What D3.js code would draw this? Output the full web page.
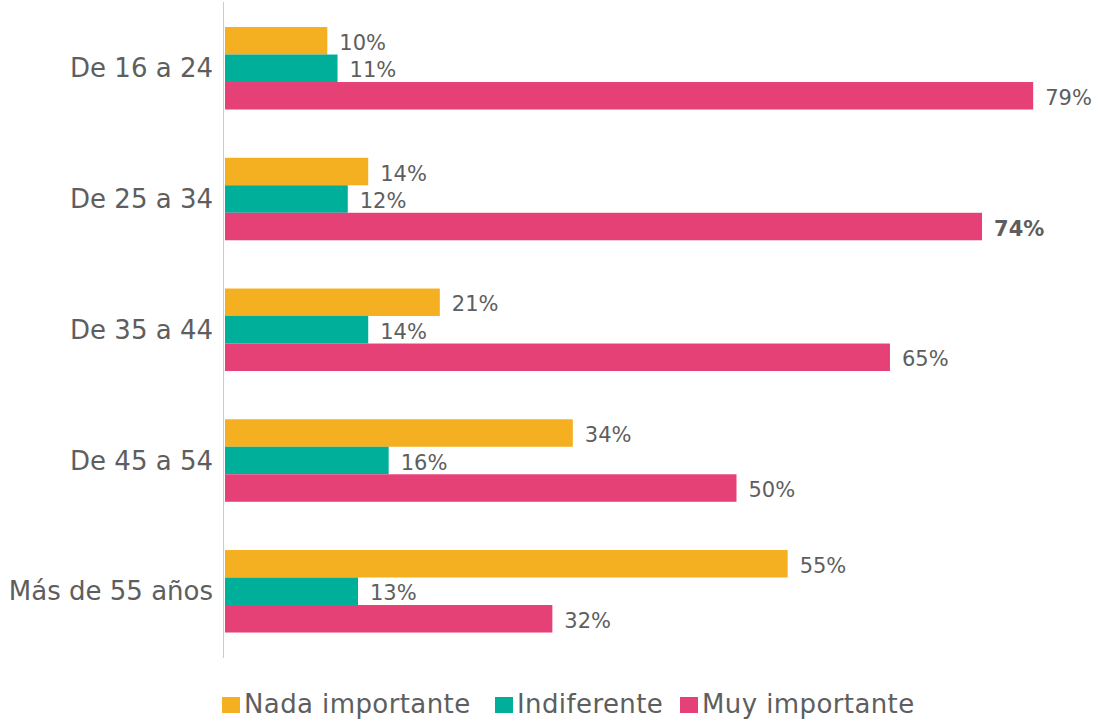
<!DOCTYPE html>
<html>
<head>
<meta charset="utf-8">
<script src="https://cdn.jsdelivr.net/npm/d3@7"></script>
<style>
  body { margin: 0; background: #fff; }
  text { font-family: "DejaVu Sans", sans-serif; fill: #5e5e5e; }
</style>
</head>
<body>
<div id="chart"></div>
<script>
var categories = ['De 16 a 24', 'De 25 a 34', 'De 35 a 44', 'De 45 a 54', 'Más de 55 años'];
var series = ['Nada importante', 'Indiferente', 'Muy importante'];
var nada = [10, 14, 21, 34, 55];
var indiferente = [11, 12, 14, 16, 13];
var muy = [79, 74, 65, 50, 32];
var colors = ['#F5B021', '#00AF9A', '#E64177'];

var width = 1101, height = 722;
var svg = d3.select('#chart').append('svg')
    .attr('width', width)
    .attr('height', height);

var x = d3.scaleLinear().domain([0, 100]).range([225, 225 + 1023]);
var y = d3.scaleBand().domain(categories)
    .range([2.9, 2.9 + 5 * 130.75])
    .paddingInner(0.369).paddingOuter(0.1845);
var ySub = d3.scaleBand().domain(series).range([0, y.bandwidth()]);

var rows = categories.map(function(c, i) {
    return { cat: c, vals: [nada[i], indiferente[i], muy[i]] };
});

// axis line
svg.append('line')
    .attr('x1', 223.5).attr('x2', 223.5)
    .attr('y1', 2).attr('y2', 658)
    .style('stroke', '#ccc').style('stroke-width', 1);

var g = svg.selectAll('.group')
    .data(rows)
    .enter().append('g')
    .attr('class', 'group')
    .attr('transform', function(d) { return 'translate(0,' + y(d.cat) + ')'; });

g.selectAll('rect')
    .data(function(d) { return d.vals.map(function(v, k) { return { v: v, s: series[k], k: k, cat: d.cat }; }); })
    .enter().append('rect')
    .attr('x', x(0))
    .attr('y', function(d) { return ySub(d.s); })
    .attr('width', function(d) { return x(d.v) - x(0); })
    .attr('height', ySub.bandwidth())
    .style('fill', function(d) { return colors[d.k]; });

g.selectAll('.val')
    .data(function(d) { return d.vals.map(function(v, k) { return { v: v, s: series[k], k: k, cat: d.cat }; }); })
    .enter().append('text')
    .attr('class', 'val')
    .attr('x', function(d) { return x(d.v) + 12; })
    .attr('y', function(d) { return ySub(d.s) + ySub.bandwidth() / 2 + 9; })
    .style('font-size', '21px')
    .style('font-weight', function(d) { return (d.cat === 'De 25 a 34' && d.k === 2) ? 'bold' : 'normal'; })
    .text(function(d) { return d.v + '%'; });

// category labels
svg.selectAll('.cat')
    .data(categories)
    .enter().append('text')
    .attr('class', 'cat')
    .attr('x', 213)
    .attr('y', function(d) { return y(d) + y.bandwidth() / 2 + 9; })
    .attr('text-anchor', 'end')
    .style('font-size', '26px')
    .text(function(d) { return d; });

// legend
var legendX = [222, 495, 680];
var lg = svg.selectAll('.legend')
    .data(series)
    .enter().append('g')
    .attr('class', 'legend')
    .attr('transform', function(d, i) { return 'translate(' + legendX[i] + ',697)'; });
lg.append('rect')
    .attr('width', 18).attr('height', 16)
    .style('fill', function(d, i) { return colors[i]; });
lg.append('text')
    .attr('x', 22).attr('y', 16)
    .style('font-size', '26px')
    .style('letter-spacing', '0.4px')
    .text(function(d) { return d; });
</script>
</body>
</html>
